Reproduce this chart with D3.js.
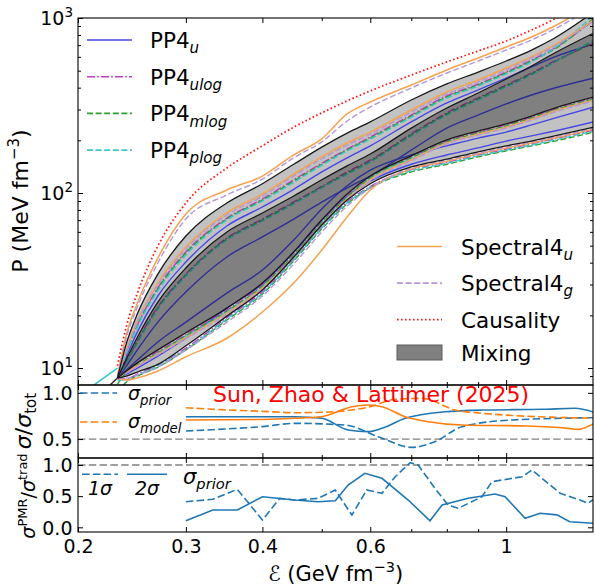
<!DOCTYPE html>
<html><head><meta charset="utf-8">
<script src="https://cdn.jsdelivr.net/npm/d3@7"></script>
<style>body{margin:0;background:#fff}svg{display:block}</style>
</head><body>
<svg id="c" width="595" height="586"></svg>
<script>
// ---------- DATA (top panel: P in MeV fm^-3 vs energy density in GeV fm^-3) ----------
const epsGrid = [0.232,0.24,0.25,0.27,0.3,0.35,0.4,0.45,0.5,0.55,0.6,0.7,0.8,0.9,1.0,1.1,1.2,1.39];
const causality = [10.3,17.4,26.8,49.8,87.7,139,186,238,287,336,383,472,561,648,739,854,987,1353];
const mixing95Upper = [8.77,13.9,20.4,34.4,56.8,87.7,113,146,183,220,255,340,420,491,568,656,769,1082];
const mixing95Lower = [8.77,9.00,9.49,10.5,13.4,19.8,27.9,43.1,65.6,91.2,113,141,156,172,186,198,212,238];
const mixing68Upper = [8.77,11.3,15.0,23.8,37.3,59.9,76.9,96.1,119,143,167,235,306,373,448,532,631,821];
const mixing68Lower = [8.77,9.61,10.7,12.7,15.9,22.0,30.6,46.0,70.1,98.7,125,163,201,226,248,275,306,354];
const spec4uU95 = [9.0,15.6,23.5,42.5,75.9,104,125,165,204,283,331,414,505,591,683,779,900,1218];
const spec4gU95 = [8.88,15.0,22.3,39.8,71.0,97.4,120,159,196,258,310,398,485,568,656,749,865,1170];
const spec4uU68 = [8.77,12.8,18.6,30.6,49.1,76.9,98.7,128,161,193,223,298,378,442,518,599,701,974];
const spec4gU68 = [8.77,12.6,18.4,29.8,47.8,74.9,96.1,125,157,188,217,290,368,431,505,591,692,961];
const mlogU95 = [8.77,12.3,17.4,28.3,45.4,71.0,91.2,117,146,176,206,275,354,414,485,568,665,1000];
const plogU95 = [8.77,12.1,17.2,27.6,44.2,70.1,90.0,115,144,174,203,271,349,409,479,561,674,1041];
const ulogU95 = [8.77,12.5,17.6,28.7,46.0,71.9,92.4,119,148,178,209,279,359,419,491,575,674,974];
const uU95 = [8.77,11.7,16.1,25.8,40.3,64.8,83.2,105,132,159,186,255,327,388,454,525,599,710];
const mlogU68 = [8.77,10.8,14.1,22.0,34.0,54.6,70.1,87.7,108,130,152,215,283,345,409,479,561,729];
const plogU68 = [8.77,10.7,13.9,21.7,33.6,53.9,69.2,86.6,107,128,150,212,279,340,404,473,561,749];
const ulogU68 = [8.77,10.9,14.3,22.3,34.4,55.3,71.0,88.9,109,132,154,218,287,350,414,485,568,719];
const uU68 = [8.77,10.3,12.7,18.3,27.2,43.1,56.1,71.0,88.8,107,125,176,235,279,323,363,398,454];
const uL68 = [8.77,9.74,11.1,14.1,18.3,26.8,36.3,53.9,81.0,110,135,165,186,206,223,245,268,310];
const uL95 = [8.77,9.24,10.0,11.7,14.8,22.0,30.2,46.0,70.1,96.1,117,146,165,181,198,212,226,255];
const mlogL68 = [8.1,9.49,10.4,12.2,15.3,21.1,29.4,44.2,67.4,94.8,122,159,196,220,242,268,298,345];
const plogL68 = [8.77,9.37,10.3,12.1,15.1,20.9,29.0,43.6,66.5,93.6,120,157,193,217,238,264,294,340];
const ulogL68 = [8.77,9.61,10.7,12.4,15.5,21.4,29.8,44.8,68.3,96.1,123,161,198,223,245,271,302,349];
const spec4uL68 = [8.77,9.49,10.3,12.0,14.9,20.6,28.6,43.1,65.6,92.4,119,155,193,217,238,264,294,340];
const spec4gL68 = [8.77,9.37,10.2,11.9,14.7,20.3,28.3,42.5,64.8,91.2,117,153,191,214,235,261,290,336];
const mlogL95 = [7.29,8.32,9.00,10.1,12.7,18.8,26.5,40.9,62.3,86.5,107,132,146,161,174,186,198,223];
const plogL95 = [8.54,8.54,9.12,10.3,12.8,19.1,26.8,41.4,63.1,87.7,108,134,148,163,176,188,201,226];
const ulogL95 = [8.65,8.65,9.24,10.4,13.0,19.4,27.2,41.9,63.9,88.8,109,136,150,165,178,191,204,229];
const spec4uL95 = [8.77,8.54,8.77,9.61,11.6,14.8,20.9,30.6,47.2,72.9,104,137,152,167,181,193,206,232];
const spec4gL95 = [8.77,8.77,9.12,10.1,12.7,18.3,25.8,39.3,59.9,84.2,107,139,154,169,183,196,209,235];
const crustEps = [0.2124,0.232], crustP = [8.0,10.0];
const stubEps = [0.2256,0.232], stubP = [8.0,8.77];

// ---------- DATA (middle panel: sigma / sigma_tot) ----------
const prior1Eps = [0.3,0.35,0.4,0.452,0.546,0.618,0.702,0.765,0.847,1.022,1.39];
const prior1 = [0.587,0.61,0.635,0.67,0.652,0.526,0.41,0.471,0.634,0.706,0.731];
const prior2Eps = [0.3,0.4,0.452,0.5,0.552,0.595,0.627,0.684,0.795,0.913,1.15,1.296,1.39];
const prior2 = [0.742,0.742,0.742,0.725,0.598,0.58,0.616,0.725,0.796,0.814,0.822,0.833,0.79];
const model1Eps = [0.3,0.35,0.4,0.452,0.5,0.6,0.659,0.729,0.825,0.913,1.39];
const model1 = [0.839,0.815,0.8,0.785,0.79,0.85,0.93,0.94,0.815,0.779,0.725];
const model2Eps = [0.3,0.4,0.452,0.5,0.56,0.595,0.627,0.684,0.746,0.847,1.086,1.262,1.31,1.39];
const model2 = [0.706,0.712,0.725,0.742,0.85,0.868,0.85,0.742,0.688,0.652,0.641,0.616,0.605,0.665];

// ---------- DATA (bottom panel: sigma^PMR / sigma^trad) ----------
const bot1Eps = [0.3,0.332,0.364,0.4,0.427,0.452,0.493,0.526,0.56,0.592,0.627,0.659,0.697,0.718,0.765,0.804,0.835,0.913,0.948,1.062,1.102,1.225,1.32,1.361,1.39];
const bot1 = [0.411,0.449,0.61,0.117,0.465,0.438,0.465,0.599,0.197,0.599,0.546,0.812,1.037,1.0,0.626,0.358,0.305,0.491,0.732,0.812,0.92,0.546,0.438,0.385,0.45];
const bot2Eps = [0.3,0.332,0.364,0.4,0.452,0.493,0.526,0.552,0.588,0.627,0.692,0.751,0.786,0.867,0.959,0.996,1.074,1.136,1.21,1.27,1.39];
const bot2 = [0.106,0.278,0.278,0.491,0.438,0.411,0.427,0.679,0.867,0.786,0.438,0.106,0.358,0.465,0.534,0.491,0.144,0.225,0.2,0.09,0.064];

// tick values
const xMajor = [0.2,0.3,0.4,0.6,1];
const xMinor = [0.5,0.7,0.8,0.9];
const xLabels = ["0.2","0.3","0.4","0.6","1"];
const yTopMajor = [10,100,1000];
const yTopMinor = [9,20,30,40,50,60,70,80,90,200,300,400,500,600,700,800,900];
const yMidMajor = [0.5,1.0];
const yBotMajor = [0.0,0.5,1.0];

// ---------- DRAWING ----------
const FONT = "'DejaVu Sans', Verdana, sans-serif";
const BLUE="#4646e6", MAG="#c23cc2", GREEN="#2e9e2e", CYAN="#3cc6cc", ORANGE="#f5a251", PURPLE="#b497d4", RED="#ff1a1a";
const TBLUE="#1f77b4", TORANGE="#ff7f0e";
const DASH="6,2.6", DASHDOT="8,2.2,1.6,2.2", DOT="1.6,2.4", DASH2="7.5,3.3";

const svg = d3.select("#c").attr("font-family", FONT);
const L=78, R=593;
const x = d3.scaleLog().domain([0.2,1.386]).range([L,R]);
const yTop = d3.scaleLog().domain([8,1000]).range([385,18]);
const yMid = d3.scaleLinear().domain([0.295,1.085]).range([458,385]);
const yBot = d3.scaleLinear().domain([-0.075,1.112]).range([532,458]);

const defs = svg.append("defs");
function clip(id,y0,y1){defs.append("clipPath").attr("id",id).append("rect").attr("x",L).attr("y",y0).attr("width",R-L).attr("height",y1-y0);}
clip("cTop",18,385); clip("cMid",385,458); clip("cBot",458,532);

const zip=(xs,ys)=>xs.map((e,i)=>[e,ys[i]]);
const lineTop=d3.line().x(d=>x(d[0])).y(d=>yTop(d[1])).curve(d3.curveMonotoneX);
const areaTop=d3.area().x(d=>x(d[0])).y0(d=>yTop(d[1])).y1(d=>yTop(d[2])).curve(d3.curveMonotoneX);

const gTop=svg.append("g").attr("clip-path","url(#cTop)");
gTop.append("path").attr("d",areaTop(epsGrid.map((e,i)=>[e,mixing95Lower[i],mixing95Upper[i]]))).attr("fill","#c2c2c2");

function drawTop(xs, ys, color, dash, w){
  gTop.append("path").attr("d",lineTop(zip(xs,ys))).attr("fill","none").attr("stroke",color)
    .attr("stroke-width",w||1.4).attr("stroke-dasharray",dash||null);
}
drawTop(crustEps,crustP,CYAN,null,1.6);
drawTop(stubEps,stubP,"#222",null,1.3);
[uU95,uU68,uL68,uL95].forEach(a=>drawTop(epsGrid,a,BLUE,null));
[ulogU95,ulogU68,ulogL68,ulogL95].forEach(a=>drawTop(epsGrid,a,MAG,DASHDOT));
[mlogU95,mlogU68,mlogL68,mlogL95].forEach(a=>drawTop(epsGrid,a,GREEN,DASH));
[plogU95,plogU68,plogL68,plogL95].forEach(a=>drawTop(epsGrid,a,CYAN,DASH));
[spec4uU95,spec4uU68,spec4uL68,spec4uL95].forEach(a=>drawTop(epsGrid,a,ORANGE,null,1.5));
[spec4gU95,spec4gU68,spec4gL68,spec4gL95].forEach(a=>drawTop(epsGrid,a,PURPLE,DASH));

gTop.append("path").attr("d",areaTop(epsGrid.map((e,i)=>[e,mixing68Lower[i],mixing68Upper[i]]))).attr("fill","#000").attr("fill-opacity",0.34);
[mixing95Upper,mixing95Lower,mixing68Upper,mixing68Lower].forEach(a=>drawTop(epsGrid,a,"#1a1a1a",null,1.3));
drawTop(epsGrid,causality,RED,DOT,1.8);

// middle panel
const gMid=svg.append("g").attr("clip-path","url(#cMid)");
const lineMid=d3.line().x(d=>x(d[0])).y(d=>yMid(d[1])).curve(d3.curveMonotoneX);
gMid.append("line").attr("x1",L).attr("x2",R).attr("y1",yMid(0.5)).attr("y2",yMid(0.5)).attr("stroke","#808080").attr("stroke-width",1.3).attr("stroke-dasharray",DASH2);
function drawMid(xs,ys,color,dash){gMid.append("path").attr("d",lineMid(zip(xs,ys))).attr("fill","none").attr("stroke",color).attr("stroke-width",1.6).attr("stroke-dasharray",dash||null);}
drawMid(prior2Eps,prior2,TBLUE,null);
drawMid(prior1Eps,prior1,TBLUE,DASH2);
drawMid(model2Eps,model2,TORANGE,null);
drawMid(model1Eps,model1,TORANGE,DASH2);

// bottom panel
const gBot=svg.append("g").attr("clip-path","url(#cBot)");
const lineBot=d3.line().x(d=>x(d[0])).y(d=>yBot(d[1]));
gBot.append("line").attr("x1",L).attr("x2",R).attr("y1",yBot(1.0)).attr("y2",yBot(1.0)).attr("stroke","#808080").attr("stroke-width",1.3).attr("stroke-dasharray",DASH2);
gBot.append("path").attr("d",lineBot(zip(bot2Eps,bot2))).attr("fill","none").attr("stroke",TBLUE).attr("stroke-width",1.6);
gBot.append("path").attr("d",lineBot(zip(bot1Eps,bot1))).attr("fill","none").attr("stroke",TBLUE).attr("stroke-width",1.6).attr("stroke-dasharray",DASH2);

// ---------- AXES ----------
function ax(gen, tx, ty, scale, values, size, fmt){
  const a=gen(scale).tickValues(values).tickSizeInner(-size).tickSizeOuter(0).tickFormat(fmt||"");
  const g=svg.append("g").attr("transform",`translate(${tx},${ty})`).call(a);
  g.select(".domain").remove();
  g.attr("font-family",FONT).attr("font-size",19);
  g.selectAll(".tick line").attr("stroke","#000").attr("stroke-width",1);
  g.selectAll(".tick text").attr("fill","#000");
  return g;
}
const panels=[[18,385,yTop],[385,458,yMid],[458,532,yBot]];
panels.forEach(([y0,y1],i)=>{
  ax(d3.axisTop,0,y0,x,xMajor,5); ax(d3.axisTop,0,y0,x,xMinor,3);
  const gb=ax(d3.axisBottom,0,y1,x,xMajor,5, i===2 ? ((d,j)=>xLabels[j]) : null);
  ax(d3.axisBottom,0,y1,x,xMinor,3);
  if(i===2){gb.selectAll(".tick text").attr("y",21).attr("dy",null);}
});
// top y
ax(d3.axisLeft,L,0,yTop,yTopMajor,5); ax(d3.axisLeft,L,0,yTop,yTopMinor,3);
ax(d3.axisRight,R,0,yTop,yTopMajor,5); ax(d3.axisRight,R,0,yTop,yTopMinor,3);
yTopMajor.forEach(v=>{
  const t=svg.append("text").attr("x",73).attr("y",yTop(v)+7).attr("text-anchor","end").attr("font-size",19);
  t.append("tspan").text("10");
  t.append("tspan").attr("dy",-8).attr("font-size",13.5).text(String(Math.round(Math.log10(v))));
});
// mid/bottom y
[[yMid,yMidMajor],[yBot,yBotMajor]].forEach(([s,vals])=>{
  const g=ax(d3.axisLeft,L,0,s,vals,5,d3.format(".1f"));
  g.selectAll(".tick text").attr("x",-5.5).attr("dy","0.36em");
  ax(d3.axisRight,R,0,s,vals,5);
});
// spines
panels.forEach(([y0,y1])=>svg.append("rect").attr("x",L).attr("y",y0).attr("width",R-L).attr("height",y1-y0).attr("fill","none").attr("stroke","#000").attr("stroke-width",1.1));

// ---------- LABELS ----------
function rotLabel(xp,yp,size,build){
  const t=svg.append("text").attr("transform",`translate(${xp},${yp}) rotate(-90)`).attr("text-anchor","middle").attr("font-size",size);
  build(t); return t;
}
rotLabel(28,201,22,t=>{t.append("tspan").text("P (MeV fm");t.append("tspan").attr("dy",-9).attr("font-size",15).text("−3");t.append("tspan").attr("dy",9).text(")");});
rotLabel(31,421,22,t=>{t.append("tspan").attr("font-style","italic").text("σ");t.append("tspan").text("/");t.append("tspan").attr("font-style","italic").text("σ");t.append("tspan").attr("dy",5).attr("font-size",15).text("tot");});
rotLabel(35,496,19,t=>{t.append("tspan").attr("font-style","italic").text("σ");t.append("tspan").attr("dy",-8).attr("font-size",13).text("PMR");t.append("tspan").attr("dy",8).text("/");t.append("tspan").attr("font-style","italic").text("σ");t.append("tspan").attr("dy",-8).attr("font-size",13).text("trad");});
{
  const t=svg.append("text").attr("x",335.5).attr("y",581).attr("text-anchor","middle").attr("font-size",21);
  t.append("tspan").attr("font-style","italic").text("ℰ");
  t.append("tspan").text(" (GeV fm");
  t.append("tspan").attr("dy",-9).attr("font-size",14.5).text("−3");
  t.append("tspan").attr("dy",9).text(")");
}
svg.append("text").attr("x",213).attr("y",402).attr("font-size",22).attr("fill","#ff0000").text("Sun, Zhao & Lattimer (2025)");

// ---------- LEGENDS ----------
function legLine(x1,x2,y,color,dash,w){svg.append("line").attr("x1",x1).attr("x2",x2).attr("y1",y).attr("y2",y).attr("stroke",color).attr("stroke-width",w||1.6).attr("stroke-dasharray",dash||null);}
function legText(xp,yp,main,sub,size,italicMain){
  const t=svg.append("text").attr("x",xp).attr("y",yp).attr("font-size",size);
  t.append("tspan").attr("font-style",italicMain?"italic":null).text(main);
  if(sub) t.append("tspan").attr("dy",size*0.25).attr("font-size",size*0.7).attr("font-style","italic").text(sub);
}
const topLeg=[["u",BLUE,null],["ulog",MAG,DASHDOT],["mlog",GREEN,DASH],["plog",CYAN,DASH]];
topLeg.forEach(([s,c,d],i)=>{const yy=40+i*36.7;legLine(87,132,yy,c,d);legText(150,yy+8,"PP4",s,21.5);});
const brLeg=[["Spectral4","u",ORANGE,null],["Spectral4","g",PURPLE,DASH],["Causality",null,RED,DOT]];
brLeg.forEach(([m,s,c,d],i)=>{const yy=246.5+i*36.6;legLine(397,442,yy,c,d,d===DOT?1.8:1.6);legText(461,yy+8,m,s,21.5);});
svg.append("rect").attr("x",397).attr("y",345).attr("width",45).attr("height",15).attr("fill","#808080").attr("stroke","#5a5a5a").attr("stroke-width",1);
legText(461,360.5,"Mixing",null,21.5);
// middle legend
legLine(80,117,393,TBLUE,DASH2);
legText(128,400,"σ","prior",19,true);
legLine(80,117,422,TORANGE,DASH2);
legText(128,428,"σ","model",19,true);
// bottom legend
legLine(82,118,474.3,TBLUE,DASH2);
legLine(127,167,474.3,TBLUE,null);
svg.append("text").attr("x",88).attr("y",495).attr("font-size",19).attr("font-style","italic").text("1σ");
svg.append("text").attr("x",135).attr("y",495).attr("font-size",19).attr("font-style","italic").text("2σ");
legText(183,484,"σ","prior",21,true);
</script>
</body></html>
